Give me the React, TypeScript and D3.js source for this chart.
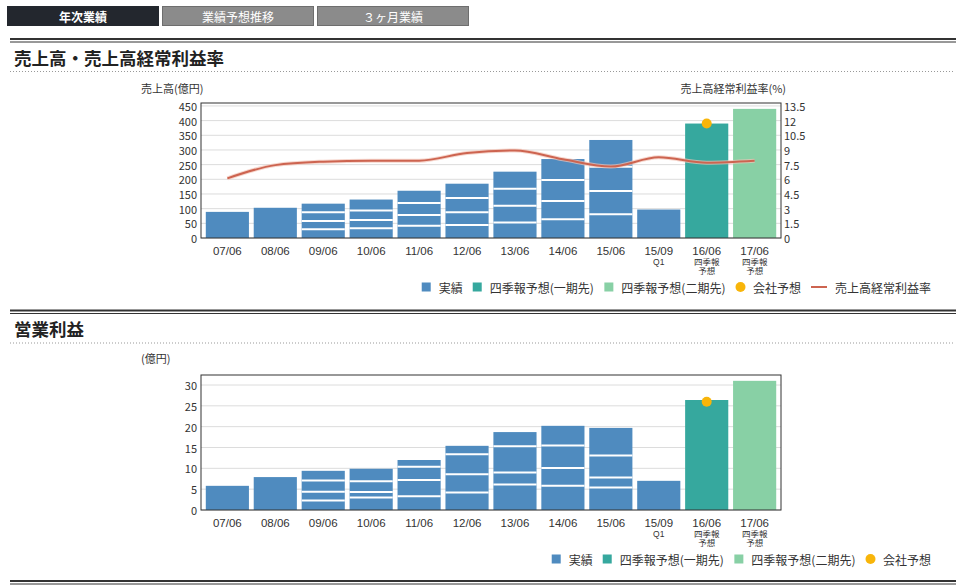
import * as d3 from "d3";

const cats = ["07/06", "08/06", "09/06", "10/06", "11/06", "12/06", "13/06", "14/06", "15/06", "15/09", "16/06", "17/06"];
const catSub = [[], [], [], [], [], [], [], [], [], ["Q1"], ["四季報", "予想"], ["四季報", "予想"]];

// 売上高 (億円)
const salesActual = [89, 103, 117, 131, 161, 185, 226, 269, 334, 97, null, null];
const salesQuarters = [[], [], [29.5, 58, 87.5], [33, 61, 94], [42, 78, 119], [44, 87.5, 136], [53, 110, 168], [64, 126, 198], [81, 160, 243], [], [], []];
const salesShiki1 = [null, null, null, null, null, null, null, null, null, null, 390, null];
const salesShiki2 = [null, null, null, null, null, null, null, null, null, null, null, 440];
const salesCompany = [null, null, null, null, null, null, null, null, null, null, 390, null];
const salesRatio = [6.1, 7.45, 7.8, 7.9, 7.9, 8.7, 8.95, 8.05, 7.3, 8.25, 7.7, 7.9];
const salesTicks = [0, 50, 100, 150, 200, 250, 300, 350, 400, 450];
const ratioTicks = [0, 1.5, 3, 4.5, 6, 7.5, 9, 10.5, 12, 13.5];

// 営業利益 (億円)
const opActual = [5.8, 7.9, 9.4, 9.9, 12, 15.4, 18.7, 20.2, 19.7, 7.0, null, null];
const opQuarters = [[], [], [2.3, 4.4, 7.1], [3.0, 4.3, 6.9], [3.3, 7.2, 10.4], [4.2, 8.6, 13.4], [6.1, 9.0, 15.3], [5.8, 10.1, 15.5], [5.4, 7.8, 13.1], [], [], []];
const opShiki1 = [null, null, null, null, null, null, null, null, null, null, 26.4, null];
const opShiki2 = [null, null, null, null, null, null, null, null, null, null, null, 31];
const opCompany = [null, null, null, null, null, null, null, null, null, null, 26, null];
const opTicks = [0, 5, 10, 15, 20, 25, 30];

const C_ACT = "#4f8bbf";
const C_S1 = "#36a89e";
const C_S2 = "#88d0a5";
const C_DOT = "#f8b50a";
const C_LINE = "#cd6450";
const FONT = "'Noto Sans CJK JP', 'Noto Sans', sans-serif";
const FONT_X = "'Liberation Sans', 'Noto Sans CJK JP', sans-serif";

const PL = 201;
const PR = 781;

const textW = (s: string, fs: number) =>
  Array.from(s).reduce((w, ch) => w + (ch.charCodeAt(0) > 0x2e80 ? fs : fs * 0.36), 0);

type Item = { label: string; kind: "rect" | "dot" | "line"; color: string };

const Legend = ({ items, y, right }: { items: Item[]; y: number; right: number }) => {
  const fs = 12;
  const widths = items.map((it) => (it.kind === "line" ? 16 : 9) + 8 + textW(it.label, fs));
  const total = d3.sum(widths) + (items.length - 1) * 10;
  let x = right - total;
  return (
    <g fontFamily={FONT} fontSize={fs} fill="#333">
      {items.map((it, i) => {
        const x0 = x;
        x += widths[i] + 10;
        const symW = it.kind === "line" ? 16 : 9;
        return (
          <g key={it.label}>
            {it.kind === "rect" && <rect x={x0} y={y - 4.5} width={9} height={9} fill={it.color} />}
            {it.kind === "dot" && <circle cx={x0 + 4.5} cy={y} r={5} fill={it.color} />}
            {it.kind === "line" && <line x1={x0} x2={x0 + 16} y1={y} y2={y} stroke={it.color} strokeWidth={2} />}
            <text x={x0 + symW + 8} y={y} dominantBaseline="central">{it.label}</text>
          </g>
        );
      })}
    </g>
  );
};

type ChartProps = {
  top: number;
  bottom: number;
  yMax: number;
  ticks: number[];
  actual: (number | null)[];
  quarters: number[][];
  shiki1: (number | null)[];
  shiki2: (number | null)[];
  company: (number | null)[];
  ratio?: number[];
  ratioMax?: number;
};

const Chart = ({ top, bottom, yMax, ticks, actual, quarters, shiki1, shiki2, company, ratio, ratioMax }: ChartProps) => {
  const x = d3.scaleBand().domain(cats).range([PL, PR]).padding(0.1);
  const y = d3.scaleLinear().domain([0, yMax]).range([bottom, top]);
  const yr = d3.scaleLinear().domain([0, ratioMax || 1]).range([bottom, top]);
  const bw = x.bandwidth();
  const cx = (i: number) => (x(cats[i]) as number) + bw / 2;

  const line = d3
    .line<number>()
    .x((_, i) => cx(i))
    .y((d) => yr(d))
    .curve(d3.curveMonotoneX);

  const bar = (v: number | null, i: number, color: string) =>
    v == null ? null : (
      <rect key={`${color}-${i}`} x={x(cats[i])} y={y(v)} width={bw} height={bottom - y(v)} fill={color} />
    );

  return (
    <g fontFamily={FONT}>
      {ticks.map((t) => (
        <line key={`g${t}`} x1={PL} x2={PR} y1={y(t)} y2={y(t)} stroke="#dcdcdc" />
      ))}
      {actual.map((v, i) => bar(v, i, C_ACT))}
      {shiki1.map((v, i) => bar(v, i, C_S1))}
      {shiki2.map((v, i) => bar(v, i, C_S2))}
      {quarters.map((qs, i) =>
        qs.map((q) => (
          <line key={`q${i}-${q}`} x1={x(cats[i])} x2={(x(cats[i]) as number) + bw} y1={y(q)} y2={y(q)} stroke="#fff" strokeWidth={2} />
        ))
      )}
      {ratio && (
        <g fill="none">
          <path d={line(ratio) || ""} stroke="#f2c4b8" strokeWidth={4} opacity={0.7} />
          <path d={line(ratio) || ""} stroke={C_LINE} strokeWidth={2} />
        </g>
      )}
      {company.map((v, i) =>
        v == null ? null : <circle key={`c${i}`} cx={cx(i)} cy={y(v)} r={5} fill={C_DOT} />
      )}
      <rect x={PL} y={top} width={PR - PL} height={bottom - top} fill="none" stroke="#333" />
      <g fontSize={11} fill="#333">
        {ticks.map((t) => (
          <text key={`l${t}`} x={PL - 4} y={y(t)} textAnchor="end" dominantBaseline="central">{t}</text>
        ))}
        {ratio &&
          ratioTicks.map((t) => (
            <text key={`r${t}`} x={PR + 3} y={yr(t)} dominantBaseline="central">{t}</text>
          ))}
        {cats.map((c, i) => (
          <text key={`x${c}`} fontFamily={FONT_X} fontSize={11.5} textAnchor="middle" x={cx(i)} y={bottom + 17}>
            {c}
            {catSub[i].map((s, j) => (
              <tspan key={s} x={cx(i)} dy={j === 0 ? 9.5 : 9.2} fontSize={8.5}>{s}</tspan>
            ))}
          </text>
        ))}
      </g>
    </g>
  );
};

const Section = ({ y0, title }: { y0: number; title: string }) => (
  <g>
    <line x1={10} x2={956} y1={y0} y2={y0} stroke="#333" strokeWidth={2} />
    <line x1={10} x2={956} y1={y0 + 3} y2={y0 + 3} stroke="#333" strokeWidth={1} />
    <text x={14} y={y0 + 18} fontFamily={FONT} fontSize={17.5} fontWeight="bold" fill="#222" dominantBaseline="central">{title}</text>
    <line x1={10} x2={953} y1={y0 + 32.5} y2={y0 + 32.5} stroke="#999" strokeDasharray="1,2" />
  </g>
);

const tabs = ["年次業績", "業績予想推移", "３ヶ月業績"];

export default function App() {
  const baseItems: Item[] = [
    { label: "実績", kind: "rect", color: C_ACT },
    { label: "四季報予想(一期先)", kind: "rect", color: C_S1 },
    { label: "四季報予想(二期先)", kind: "rect", color: C_S2 },
    { label: "会社予想", kind: "dot", color: C_DOT },
  ];
  return (
    <svg width={956} height={585} style={{ position: "absolute", left: 0, top: 0, background: "#fff" }}>
      {tabs.map((t, i) => (
        <g key={t}>
          <rect
            x={7.5 + i * 155}
            y={6.5}
            width={151}
            height={19}
            fill={i === 0 ? "#23272e" : "#8b8b8b"}
            stroke={i === 0 ? "#23272e" : "#6e6e6e"}
          />
          <text
            x={83 + i * 155}
            y={16}
            textAnchor="middle"
            dominantBaseline="central"
            fontFamily={FONT}
            fontSize={12}
            fontWeight={i === 0 ? "bold" : "normal"}
            fill="#fff"
          >
            {t}
          </text>
        </g>
      ))}

      <Section y0={39} title="売上高・売上高経常利益率" />
      <text x={141} y={88} fontFamily={FONT} fontSize={11} fill="#333" dominantBaseline="central">売上高(億円)</text>
      <text x={786} y={88} fontFamily={FONT} fontSize={11} fill="#333" textAnchor="end" dominantBaseline="central">売上高経常利益率(%)</text>
      <Chart
        top={103}
        bottom={238}
        yMax={460}
        ticks={salesTicks}
        actual={salesActual}
        quarters={salesQuarters}
        shiki1={salesShiki1}
        shiki2={salesShiki2}
        company={salesCompany}
        ratio={salesRatio}
        ratioMax={13.8}
      />
      <Legend items={[...baseItems, { label: "売上高経常利益率", kind: "line", color: C_LINE }]} y={287} right={931} />

      <Section y0={310.5} title="営業利益" />
      <text x={141} y={358} fontFamily={FONT} fontSize={11} fill="#333" dominantBaseline="central">(億円)</text>
      <Chart
        top={375}
        bottom={510}
        yMax={32.4}
        ticks={opTicks}
        actual={opActual}
        quarters={opQuarters}
        shiki1={opShiki1}
        shiki2={opShiki2}
        company={opCompany}
      />
      <Legend items={baseItems} y={559} right={931} />

      <line x1={10} x2={956} y1={581} y2={581} stroke="#333" strokeWidth={2} />
      <line x1={10} x2={956} y1={584} y2={584} stroke="#333" strokeWidth={1} />
    </svg>
  );
}
